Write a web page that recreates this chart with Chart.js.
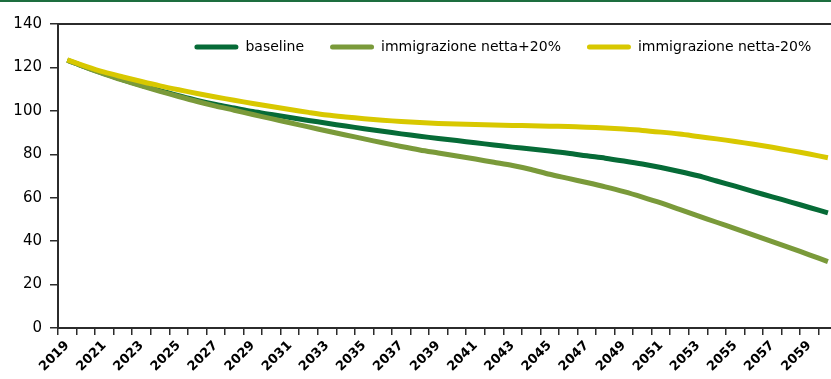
<!DOCTYPE html>
<html>
<head>
<meta charset="utf-8">
<script src="https://cdn.jsdelivr.net/npm/chart.js@4.4.1/dist/chart.umd.min.js"></script>
<style>
  html, body { margin: 0; padding: 0; background: #fff; overflow: hidden; }
  #topbar { width: 831px; height: 2px; background: #1d6e3f; }
  #wrap { position: relative; width: 842px; height: 377px; }
</style>
</head>
<body>
<div id="topbar"></div>
<div id="wrap"><canvas id="chart-line"></canvas></div>
<script>
// years on the x axis
var years = ['2019','2020','2021','2022','2023','2024','2025','2026','2027','2028',
             '2029','2030','2031','2032','2033','2034','2035','2036','2037','2038',
             '2039','2040','2041','2042','2043','2044','2045','2046','2047','2048',
             '2049','2050','2051','2052','2053','2054','2055','2056','2057','2058',
             '2059','2060'];

var seriesNames = ['baseline', 'immigrazione netta+20%', 'immigrazione netta-20%'];

var baseline = [123.4,120.1,117.1,114.3,111.8,109.3,107.0,104.8,102.9,101.3,
                99.7,98.3,96.9,95.6,94.3,93.0,91.8,90.6,89.4,88.3,
                87.3,86.3,85.3,84.3,83.3,82.4,81.5,80.5,79.3,78.2,
                76.9,75.5,73.9,72.1,70.1,67.7,65.3,62.8,60.4,58.0,
                55.5,53.0];

var immPlus20 = [123.3,120.0,116.9,114.1,111.5,109.0,106.6,104.3,102.2,100.3,
                 98.3,96.4,94.5,92.6,90.7,88.9,87.1,85.3,83.6,82.0,
                 80.6,79.2,77.8,76.3,74.8,73.0,70.8,68.9,67.0,65.0,
                 62.8,60.3,57.6,54.6,51.6,48.7,45.8,42.8,39.8,36.8,
                 33.7,30.6];

var immMinus20 = [123.5,120.5,117.8,115.6,113.5,111.5,109.7,108.0,106.4,104.9,
                  103.4,102.0,100.6,99.3,98.1,97.2,96.4,95.7,95.1,94.6,
                  94.2,93.9,93.7,93.5,93.3,93.1,92.9,92.8,92.5,92.1,
                  91.6,91.0,90.2,89.3,88.2,87.1,85.9,84.6,83.2,81.7,
                  80.1,78.4];

var yTicks = [0, 20, 40, 60, 80, 100, 120, 140];

var colors = ['#066b37', '#7a9a3a', '#d8c800'];
var axisColor = '#2b2b2b';

// top edge of the plot frame
var frameTop = {
    id: 'frameTop',
    afterDatasetsDraw: function (chart) {
        var a = chart.chartArea, c = chart.ctx;
        c.save();
        c.strokeStyle = axisColor;
        c.lineWidth = 2;
        c.beginPath();
        c.moveTo(a.left, a.top);
        c.lineTo(a.right, a.top);
        c.stroke();
        c.restore();
    }
};

// legend keeps a small layout height but is drawn over the plot
var legendOverlay = {
    id: 'legendOverlay',
    afterLayout: function (chart) {
        var l = chart.legend;
        if (!l) return;
        l.height = 50;
        l.bottom = l.top + 50;
    }
};

var ctx = document.getElementById('chart-line');
var myChart = new Chart(ctx, {
    type: 'line',
    data: {
        labels: years,
        datasets: [{
            label: seriesNames[0],
            data: baseline,
            borderColor: colors[0],
            backgroundColor: colors[0],
            borderWidth: 5,
            pointRadius: 0,
            tension: 0.3,
            order: 3
        }, {
            label: seriesNames[1],
            data: immPlus20,
            borderColor: colors[1],
            backgroundColor: colors[1],
            borderWidth: 5,
            pointRadius: 0,
            tension: 0.3,
            order: 2
        }, {
            label: seriesNames[2],
            data: immMinus20,
            borderColor: colors[2],
            backgroundColor: colors[2],
            borderWidth: 5,
            pointRadius: 0,
            tension: 0.3,
            order: 1
        }]
    },
    options: {
        responsive: true,
        maintainAspectRatio: false,
        animation: false,
        layout: {
            padding: { top: 12, left: 0, right: 0, bottom: 0 }
        },
        plugins: {
            tooltip: { enabled: false },
            legend: {
                position: 'top',
                align: 'end',
                fullSize: false,
                maxHeight: 10,
                labels: {
                    boxWidth: 44,
                    boxHeight: 5,
                    padding: 26,
                    useBorderRadius: true,
                    borderRadius: 2.5,
                    color: '#000',
                    font: { family: 'DejaVu Sans', size: 14 },
                    generateLabels: function (chart) {
                        var items = Chart.defaults.plugins.legend.labels.generateLabels(chart);
                        items.forEach(function (it) {
                            it.lineWidth = 0;
                            it.fillStyle = it.strokeStyle;
                        });
                        return items;
                    },
                    sort: function (a, b) { return a.datasetIndex - b.datasetIndex; }
                }
            }
        },
        scales: {
            x: {
                type: 'category',
                offset: true,
                afterFit: function (s) { s.height = 51; },
                grid: {
                    offset: true,
                    drawOnChartArea: false,
                    drawTicks: true,
                    tickLength: 7,
                    color: axisColor,
                    lineWidth: 1.5
                },
                border: { display: true, color: axisColor, width: 2 },
                ticks: {
                    autoSkip: false,
                    minRotation: 45,
                    maxRotation: 45,
                    padding: 3,
                    color: '#000',
                    font: { family: 'DejaVu Sans', size: 13, weight: 'bold' },
                    callback: function (val, i) { return i % 2 === 0 ? years[i] : ''; }
                }
            },
            y: {
                min: 0,
                max: 140,
                afterFit: function (s) { s.width = 58; },
                afterBuildTicks: function (s) {
                    s.ticks = yTicks.map(function (v) { return { value: v }; });
                },
                grid: {
                    drawOnChartArea: false,
                    drawTicks: true,
                    tickLength: 8,
                    color: axisColor,
                    lineWidth: 1.5
                },
                border: { display: true, color: axisColor, width: 2 },
                ticks: {
                    padding: 8,
                    color: '#000',
                    font: { family: 'DejaVu Sans', size: 15 }
                }
            }
        }
    },
    plugins: [frameTop, legendOverlay]
});
</script>
</body>
</html>
